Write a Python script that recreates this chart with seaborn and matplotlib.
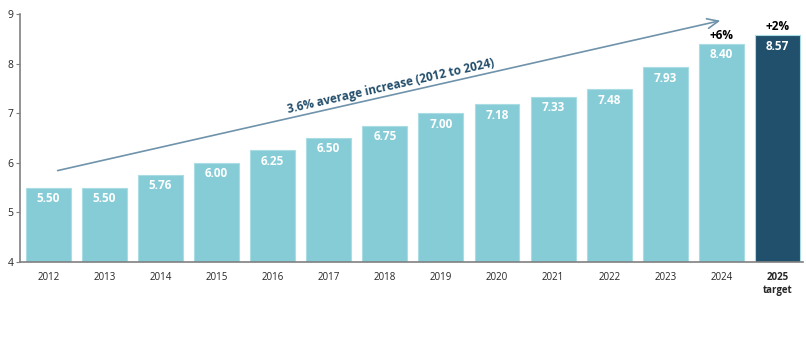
import pandas as pd
import seaborn as sns
import matplotlib.pyplot as plt

years = ['2012', '2013', '2014', '2015', '2016', '2017', '2018', '2019',
         '2020', '2021', '2022', '2023', '2024', '2025\ntarget']
values = [5.50, 5.50, 5.76, 6.00, 6.25, 6.50, 6.75, 7.00, 7.18, 7.33, 7.48, 7.93, 8.40, 8.57]
kind = ['actual'] * 13 + ['target']
growth = {12: '+6%', 13: '+2%'}
trend_text = '3.6% average increase (2012 to 2024)'

df = pd.DataFrame({'year': years, 'value': values, 'kind': kind})

sns.set_style('white')
plt.rcParams['font.family'] = ['Open Sans', 'DejaVu Sans']

fig = plt.figure(figsize=(8.06, 3.52), dpi=100)
ax = fig.add_axes([0.025, 0.256, 0.971, 0.704])
sns.barplot(data=df, x='year', y='value', hue='kind',
            palette={'actual': '#86ccd6', 'target': '#20506c'},
            saturation=1, width=0.8, dodge=False, legend=False, ax=ax,
            edgecolor='#a9dce3', linewidth=0.8)

ax.set_ylim(4, 9)
ax.set_xlim(-0.5, 13.45)
ax.set_xlabel('')
ax.set_ylabel('')
ax.set_yticks([4, 5, 6, 7, 8, 9])
ax.tick_params(axis='y', left=True, length=3, color='#808080', labelsize=7.5, pad=2)
ax.tick_params(axis='x', bottom=False, labelsize=7, pad=4)
for lab in ax.get_xticklabels():
    if 'target' in lab.get_text():
        lab.set_fontweight('bold')

sns.despine(ax=ax)
for s in ['left', 'bottom']:
    ax.spines[s].set_color('#808080')
    ax.spines[s].set_linewidth(1.2)

for i, v in enumerate(values):
    ax.text(i, v - 0.09, f'{v:.2f}', ha='center', va='top', color='white',
            fontsize=8.5, fontweight='bold')
for i, t in growth.items():
    ax.text(i, values[i] + 0.04, t, ha='center', va='bottom', color='black',
            fontsize=8.5, fontweight='bold')

ax.annotate('', xy=(12.03, 8.88), xytext=(0.12, 5.83),
            arrowprops=dict(arrowstyle='->,head_length=0.8,head_width=0.35',
                            color='#6f93ab', lw=1.2), annotation_clip=False)
ax.text(6.1, 7.55, trend_text, rotation=12.8, rotation_mode='anchor',
        ha='center', va='center', color='#234e6b', fontsize=8.5, fontweight='bold')

fig.savefig('out.png', dpi=100)
